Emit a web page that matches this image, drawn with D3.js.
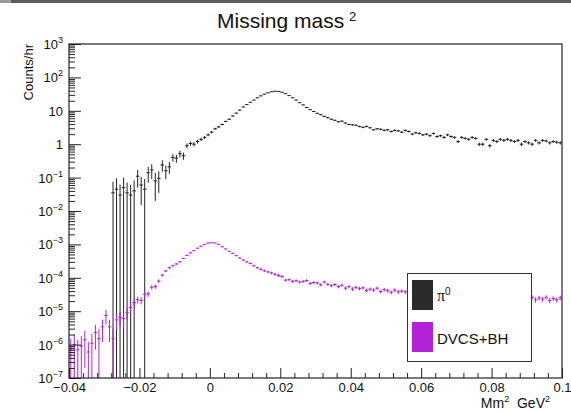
<!DOCTYPE html>
<html>
<head>
<meta charset="UTF-8">
<title>Missing mass 2</title>
<script src="https://d3js.org/d3.v7.min.js"></script>
<style>
  body { margin: 0; background: #fff; }
  svg { display: block; font-family: "Liberation Sans", Arial, sans-serif; }
</style>
</head>
<body>
<svg width="571" height="413"></svg>
<script>
// histogram binning: 140 bins of 0.001 from -0.04 to 0.1
const binLow = -0.04;
const binWidth = 0.001;

// pi0 counts/hr per bin (null = empty bin)
const pi0Counts = [
  null, null, null, null, null, null, null, null, null, null, null, null,
  0.035, 0.045, 0.030, 0.050, 0.035, 0.030, 0.040, 0.11, 0.06, 0.045,
  0.14, 0.17, 0.08, 0.095, 0.24, 0.16, 0.21, 0.40, 0.38, 0.52, 0.45,
  0.9, 1.05, 1.0, 1.2, 1.4, 1.6, 1.9,
  2.3, 2.9, 3.3, 3.9, 4.8, 5.6,
  7.0, 8.5, 10.5, 13, 15.5, 18, 21, 24.5, 28, 31.5, 34.5, 37, 38.5, 38, 36, 32.5, 28.5, 24.5, 21, 17.5, 15, 12.5, 10.8,
  9.5, 8.4, 7.6, 6.8, 6.2, 5.6, 5.2, 4.7, 4.9, 4.3,
  3.9, 3.8, 3.7, 3.4, 3.2, 3.4, 3.1, 2.7, 2.9, 2.8, 2.6, 2.7, 2.4, 2.6, 2.5, 2.3, 2.6, 2.4, 2.0, 2.2,
  2.1, 1.9, 2.0, 1.8, 2.1, 1.7, 1.8, 1.6, 1.9, 1.7, 1.6, 1.2, 1.6, 1.5, 1.4, 1.6, 1.5, 1.0, 1.0, 1.4,
  0.9, 1.3, 1.2, 1.4, 1.3, 1.4, 1.3, 1.2, 1.3, 1.0, 1.2, 1.1, 1.0, 1.3, 1.1, 1.3, 1.25, 1.1, 1.2, 1.15, 1.1
];
const pi0Errors = [
  null, null, null, null, null, null, null, null, null, null, null, null,
  0.04, 0.05, 0.032, 0.05, 0.036, 0.031, 0.042, 0.06, 0.045, 0.046,
  0.07, 0.08, 0.06, 0.06, 0.09, 0.07, 0.08, 0.1, 0.1, 0.12, 0.11,
  0.15, 0.15, 0.15, 0.16, 0.16, 0.17, 0.18,
  0.19, 0.2, 0.21, 0.22, 0.24, 0.25,
  0.27, 0.29, 0.32, 0.35, 0.38, 0.4, 0.43, 0.46, 0.5, 0.53, 0.55, 0.57, 0.58, 0.58, 0.56, 0.54, 0.5, 0.47, 0.43, 0.4, 0.37, 0.34, 0.31,
  0.3, 0.29, 0.27, 0.26, 0.25, 0.24, 0.23, 0.22, 0.22, 0.21,
  0.2, 0.2, 0.2, 0.19, 0.19, 0.19, 0.18, 0.17, 0.18, 0.17, 0.17, 0.17, 0.16, 0.17, 0.16, 0.16, 0.17, 0.16, 0.15, 0.16,
  0.15, 0.15, 0.15, 0.14, 0.15, 0.14, 0.14, 0.14, 0.15, 0.14, 0.14, 0.12, 0.14, 0.13, 0.13, 0.14, 0.13, 0.12, 0.12, 0.13,
  0.11, 0.13, 0.12, 0.13, 0.13, 0.13, 0.13, 0.12, 0.13, 0.12, 0.12, 0.12, 0.12, 0.12, 0.12, 0.13, 0.12, 0.12, 0.12, 0.12, 0.12
];

// DVCS+BH counts/hr per bin
const dvcsCounts = [
  7e-7, 1.0e-6, 7e-7, 9e-7, 1.4e-6, 6e-7, 1.1e-6, 2.3e-6, 1.5e-6,
  3.4e-6, 7.5e-6, 3.4e-6, 1.5e-6, 5.5e-6, 6.5e-6, 6e-6,
  9e-6, 1.3e-5, 1.8e-5, 2.2e-5, 2.1e-5, 3.2e-5, 3.3e-5, 5.2e-5, 5.5e-5,
  8e-5, 1.2e-4, 1.6e-4, 2.0e-4, 2.3e-4, 2.6e-4, 3.0e-4, 3.8e-4,
  4.7e-4, 5.6e-4, 6.5e-4, 7.7e-4, 8.8e-4, 1.0e-3, 1.1e-3, 1.12e-3, 1.1e-3, 1.0e-3, 8.5e-4, 7.3e-4, 6.2e-4, 5.4e-4, 4.6e-4, 3.9e-4,
  3.4e-4, 3.0e-4, 2.7e-4, 2.3e-4, 2.0e-4, 1.8e-4, 1.62e-4, 1.5e-4, 1.4e-4, 1.28e-4, 1.18e-4, 1.1e-4,
  8.5e-5, 8.8e-5, 7.8e-5, 8.2e-5, 7.5e-5, 7.8e-5, 8.3e-5, 6.8e-5, 7.2e-5, 7.0e-5,
  6.2e-5, 7.5e-5, 6.4e-5, 5.8e-5, 6.3e-5, 5.5e-5, 6.0e-5, 4.9e-5, 5.4e-5, 4.6e-5,
  5.2e-5, 4.8e-5, 5.0e-5, 4.2e-5, 4.6e-5, 4.3e-5, 4.9e-5, 3.9e-5, 4.4e-5, 4.1e-5,
  3.7e-5, 4.3e-5, 3.8e-5, 4.0e-5,
  3.8e-5, 3.5e-5, 3.9e-5, 3.4e-5, 3.6e-5, 3.3e-5, 3.5e-5, 3.1e-5, 3.4e-5, 3.0e-5,
  3.2e-5, 3.3e-5, 2.9e-5, 3.1e-5, 2.8e-5, 3.0e-5, 2.9e-5, 2.7e-5, 3.0e-5, 2.8e-5,
  2.6e-5, 2.9e-5, 2.7e-5, 2.8e-5, 2.5e-5, 2.7e-5, 2.6e-5, 2.8e-5, 2.5e-5, 2.6e-5,
  2.7e-5, 2.4e-5, 2.6e-5, 2.5e-5, 2.7e-5, 2.4e-5,
  2.6e-5, 2.2e-5, 2.5e-5, 2.3e-5, 2.6e-5, 2.1e-5, 2.4e-5, 2.2e-5, 2.5e-5
];
const dvcsErrors = [
  8e-7, 1.0e-6, 7e-7, 9e-7, 1.2e-6, 6e-7, 1.0e-6, 1.6e-6, 1.4e-6,
  2.2e-6, 3.5e-6, 2.2e-6, 1.5e-6, 2.8e-6, 3e-6, 2.8e-6,
  3.5e-6, 4e-6, 4.5e-6, 5e-6, 5e-6, 6e-6, 6e-6, 8e-6, 8e-6,
  1e-5, 1.2e-5, 1.4e-5, 1.5e-5, 1.5e-5, 1.6e-5, 1.7e-5, 1.8e-5,
  2e-5, 2.1e-5, 2.2e-5, 2.3e-5, 2.4e-5, 2.5e-5, 2.6e-5, 2.6e-5, 2.6e-5, 2.5e-5, 2.4e-5, 2.3e-5, 2.2e-5, 2.1e-5, 2e-5, 1.9e-5,
  1.8e-5, 1.7e-5, 1.6e-5, 1.5e-5, 1.4e-5, 1.4e-5, 1.3e-5, 1.3e-5, 1.3e-5, 1.2e-5, 1.2e-5, 1.2e-5,
  8e-6, 8e-6, 8e-6, 8e-6, 7.5e-6, 7.5e-6, 7.5e-6, 7e-6, 7e-6, 7e-6,
  7e-6, 7e-6, 6.5e-6, 6.5e-6, 6.5e-6, 6.5e-6, 6.5e-6, 6e-6, 6e-6, 6e-6,
  6e-6, 6e-6, 6e-6, 5.5e-6, 5.5e-6, 5.5e-6, 5.5e-6, 5.5e-6, 5.5e-6, 5.5e-6,
  5e-6, 5.5e-6, 5e-6, 5e-6,
  5e-6, 5e-6, 5e-6, 5e-6, 5e-6, 5e-6, 5e-6, 4.8e-6, 4.8e-6, 4.8e-6,
  4.8e-6, 4.8e-6, 4.6e-6, 4.6e-6, 4.6e-6, 4.6e-6, 4.6e-6, 4.5e-6, 4.5e-6, 4.5e-6,
  4.4e-6, 4.4e-6, 4.4e-6, 4.4e-6, 4.3e-6, 4.3e-6, 4.3e-6, 4.3e-6, 4.2e-6, 4.2e-6,
  4.2e-6, 4.2e-6, 4.2e-6, 4.1e-6, 4.1e-6, 4.1e-6,
  4.1e-6, 4e-6, 4e-6, 4e-6, 4e-6, 3.9e-6, 3.9e-6, 3.9e-6, 3.9e-6
];

// axis ticks and labels
const xMajorTicks = [-0.04, -0.02, 0, 0.02, 0.04, 0.06, 0.08, 0.1];
const xTickLabels = ["\u22120.04", "\u22120.02", "0", "0.02", "0.04", "0.06", "0.08", "0.1"];
const yDecades = [1e3, 1e2, 1e1, 1, 1e-1, 1e-2, 1e-3, 1e-4, 1e-5, 1e-6, 1e-7];
const yTickLabels = [["10", "3"], ["10", "2"], ["10", ""], ["1", ""], ["10", "\u22121"], ["10", "\u22122"],
                     ["10", "\u22123"], ["10", "\u22124"], ["10", "\u22125"], ["10", "\u22126"], ["10", "\u22127"]];

const seriesNames = ["\u03c0", "DVCS+BH"];
const seriesColors = ["#222222", "#b422d8"];

const svg = d3.select("svg");
const W = 571, H = 413;
const mLeft = 69, mRight = 562, mTop = 44, mBottom = 378;

svg.append("rect").attr("width", W).attr("height", H).attr("fill", "#fff");
// window strip at the very top
svg.append("rect").attr("x", 0).attr("y", 0).attr("width", W).attr("height", 3).attr("fill", "#5b5b5b");
svg.append("rect").attr("x", 0).attr("y", 0).attr("width", 11).attr("height", 3).attr("fill", "#9a9a9a");

const x = d3.scaleLinear().domain([-0.04, 0.1]).range([mLeft, mRight]);
const y = d3.scaleLog().domain([1e-7, 1e3]).range([mBottom, mTop]);

svg.append("defs").append("clipPath").attr("id", "plotclip")
  .append("rect").attr("x", mLeft).attr("y", mTop).attr("width", mRight - mLeft).attr("height", mBottom - mTop);

// histogram with error bars (ROOT "E" style)
function drawHist(counts, errors, color) {
  const bins = counts.map((v, i) => ({ v, e: errors[i], lo: binLow + i * binWidth }))
    .filter(d => d.v != null);
  const g = svg.append("g").attr("clip-path", "url(#plotclip)")
    .attr("stroke", color).attr("stroke-width", 1).attr("fill", "none");
  g.selectAll("line.h").data(bins).join("line").attr("class", "h")
    .attr("x1", d => x(d.lo)).attr("x2", d => x(d.lo + binWidth))
    .attr("y1", d => y(d.v)).attr("y2", d => y(d.v));
  g.selectAll("line.v").data(bins).join("line").attr("class", "v")
    .attr("x1", d => x(d.lo + binWidth / 2)).attr("x2", d => x(d.lo + binWidth / 2))
    .attr("y1", d => y(d.v + d.e))
    .attr("y2", d => d.v - d.e > 0 ? y(d.v - d.e) : mBottom + 2);
}
drawHist(pi0Counts, pi0Errors, seriesColors[0]);
drawHist(dvcsCounts, dvcsErrors, seriesColors[1]);

// x axis: major + minor ticks pointing inward
const xMinor = d3.range(-0.04, 0.1001, 0.004).filter(v => !xMajorTicks.some(t => Math.abs(t - v) < 1e-9));
svg.append("g").attr("transform", `translate(0,${mBottom})`)
  .call(d3.axisBottom(x).tickValues(xMinor).tickSizeInner(-5).tickSizeOuter(0).tickFormat(""))
  .call(g => g.select(".domain").remove())
  .selectAll("line").attr("stroke", "#222");
const xAx = svg.append("g").attr("transform", `translate(0,${mBottom})`)
  .call(d3.axisBottom(x).tickValues(xMajorTicks).tickSizeInner(-10).tickSizeOuter(0)
    .tickPadding(4).tickFormat((d, i) => xTickLabels[i]));
xAx.select(".domain").remove();
xAx.selectAll("line").attr("stroke", "#222");
xAx.selectAll("text").attr("font-size", 13).attr("font-family", "Liberation Sans, Arial, sans-serif")
  .attr("fill", "#111").attr("dy", "0.75em");

// y axis: decades and 2..9 minor ticks
const yMinor = [];
yDecades.slice(1).forEach(d => { for (let k = 2; k <= 9; k++) yMinor.push(d * k); });
svg.append("g").attr("transform", `translate(${mLeft},0)`)
  .call(d3.axisLeft(y).tickValues(yMinor).tickSizeInner(-6).tickSizeOuter(0).tickFormat(""))
  .call(g => g.select(".domain").remove())
  .selectAll("line").attr("stroke", "#222");
const yAx = svg.append("g").attr("transform", `translate(${mLeft},0)`)
  .call(d3.axisLeft(y).tickValues(yDecades).tickSizeInner(-12).tickSizeOuter(0).tickFormat(""));
yAx.select(".domain").remove();
yAx.selectAll("line").attr("stroke", "#222");

const yLab = svg.append("g").attr("font-size", 13).attr("fill", "#111").attr("text-anchor", "end");
yDecades.forEach((d, i) => {
  const t = yLab.append("text").attr("x", mLeft - 6).attr("y", y(d) + 5);
  const [base, ex] = yTickLabels[i];
  t.append("tspan").text(base);
  if (ex) t.append("tspan").attr("dy", -6).attr("font-size", 9).text(ex);
});

// frame
svg.append("rect").attr("x", mLeft).attr("y", mTop).attr("width", mRight - mLeft).attr("height", mBottom - mTop)
  .attr("fill", "none").attr("stroke", "#222").attr("stroke-width", 1.2);

// titles
svg.append("text").attr("x", 217).attr("y", 28).attr("font-size", 21).attr("fill", "#111").text("Missing mass");
svg.append("text").attr("x", 349).attr("y", 21).attr("font-size", 13).attr("fill", "#111").text("2");

svg.append("text").attr("transform", "translate(33,44) rotate(-90)").attr("text-anchor", "end")
  .attr("font-size", 13).attr("fill", "#111").text("Counts/hr");

const xt = svg.append("text").attr("x", 550).attr("y", 408).attr("text-anchor", "end")
  .attr("font-size", 14).attr("fill", "#111");
xt.append("tspan").text("Mm");
xt.append("tspan").attr("dy", -6).attr("font-size", 9).text("2");
xt.append("tspan").attr("dy", 6).text("\u00a0 GeV");
xt.append("tspan").attr("dy", -6).attr("font-size", 9).text("2");

// legend
const lg = svg.append("g");
lg.append("rect").attr("x", 407.5).attr("y", 273.5).attr("width", 124).attr("height", 88)
  .attr("fill", "#fff").attr("stroke", "#333");
lg.append("rect").attr("x", 412).attr("y", 280).attr("width", 21).attr("height", 30).attr("fill", "#2b2b2b");
lg.append("rect").attr("x", 412).attr("y", 322).attr("width", 21).attr("height", 30).attr("fill", seriesColors[1]);
const l1 = lg.append("text").attr("x", 437).attr("y", 301).attr("fill", "#111");
l1.append("tspan").attr("font-family", "Liberation Serif, Times New Roman, serif").attr("font-size", 16).text(seriesNames[0]);
l1.append("tspan").attr("dy", -6).attr("font-size", 10).text("0");
lg.append("text").attr("x", 437).attr("y", 344).attr("font-size", 15).attr("fill", "#111").text(seriesNames[1]);
</script>
</body>
</html>
